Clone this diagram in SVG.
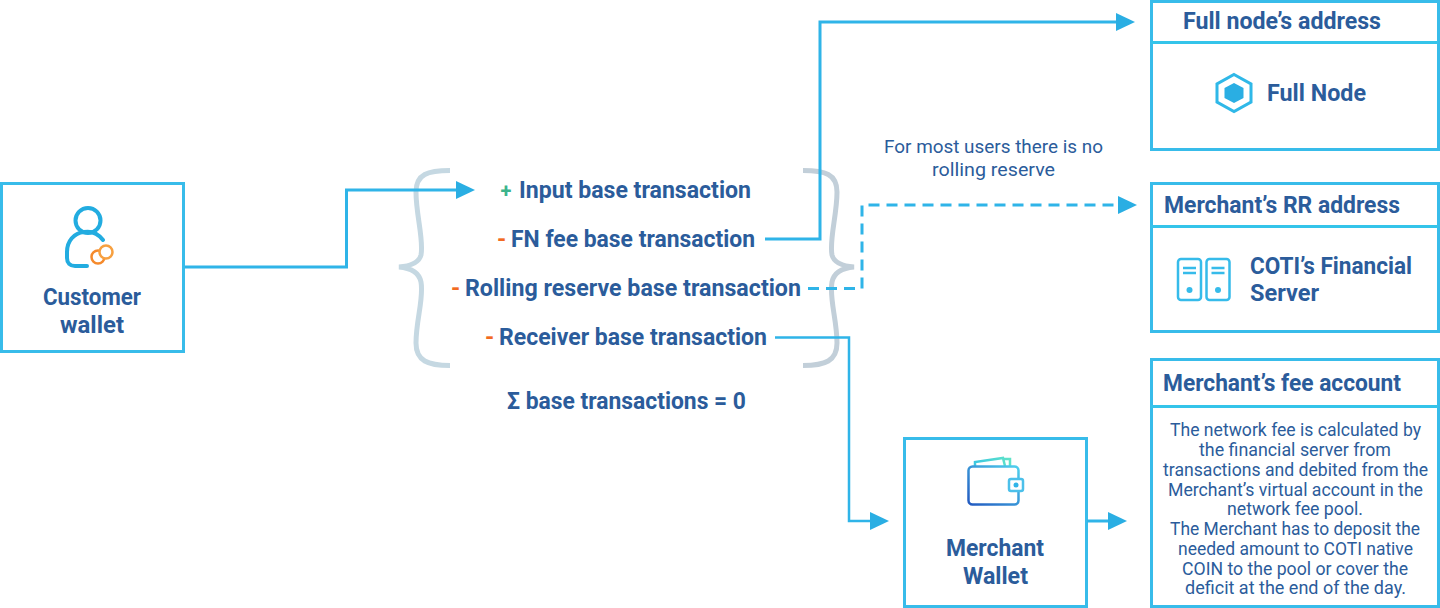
<svg xmlns="http://www.w3.org/2000/svg" width="1440" height="608" viewBox="0 0 1440 608">
<style>
text{font-family:Roboto,"Noto Sans","Liberation Sans",sans-serif;fill:#2b5c9b}
.t{font-weight:700;font-size:23.500px}
.m{text-anchor:middle}
.s{font-size:17.500px;font-weight:400;text-anchor:middle}
.box{fill:#fff;stroke:#38bcea;stroke-width:3}
.div{fill:none;stroke:#34c4ea;stroke-width:3}
.c{fill:none;stroke:#2fb4e8;stroke-width:3}
.d{stroke-dasharray:11 7}
.br{fill:none;stroke-width:5}
</style>
<defs>
<marker id="a" markerUnits="userSpaceOnUse" markerWidth="19" markerHeight="20" refX="0" refY="10" orient="auto"><path d="M0 1L19 10L0 19Z" fill="#2aaee3"/></marker>
<linearGradient id="w" x1="0" y1="1" x2="1" y2="0"><stop offset="0" stop-color="#2259c0"/><stop offset="1" stop-color="#4fd0ee"/></linearGradient>
<linearGradient id="w2" x1="0" y1="0" x2="1" y2="0"><stop offset="0" stop-color="#3cc8e0"/><stop offset="1" stop-color="#5fe3c8"/></linearGradient>
</defs>
<g id="customer-wallet">
<rect class="box" x="1.500" y="183.500" width="182" height="168"/>
<circle cx="88" cy="220.500" r="12.500" fill="none" stroke="#22ace0" stroke-width="4"/>
<path d="M103 240C97 232 90 231 84 232C74 233 67 241 67 252V258C67 263 70 266 75 266H87" fill="none" stroke="#22ace0" stroke-width="4" stroke-linecap="round"/>
<circle cx="98" cy="257" r="6.500" fill="none" stroke="#f58a2c" stroke-width="2.500"/>
<circle cx="106" cy="252" r="6.500" fill="#fff" stroke="#f7a040" stroke-width="2.500"/>
<text class="t m" x="92" y="305" textLength="98" lengthAdjust="spacingAndGlyphs">Customer</text>
<text class="t m" x="92" y="333" textLength="64" lengthAdjust="spacingAndGlyphs">wallet</text>
</g>
<g id="transactions">
<path class="br" stroke="#c5d8e2" d="M450 170.500C428 170.500 416 174 416 192C416 215 424 240 421 255C419 263 410 266 399 267C410 268 419 272 421 282C424 298 416 320 416 343C416 361 428 365.500 450 365.500"/>
<path class="br" stroke="#c2cfd9" d="M803 170.500C825 170.500 837 174 837 192C837 215 829 240 832 255C834 263 843 266 854 267C843 268 834 272 832 282C829 298 837 320 837 343C837 361 825 365.500 803 365.500"/>
<text class="t" x="500.500" y="198" style="fill:#3cb48c;font-size:20px">+</text>
<text class="t" x="519" y="198" textLength="232" lengthAdjust="spacingAndGlyphs">Input base transaction</text>
<text class="t" x="497" y="247" style="fill:#f26a21">-</text>
<text class="t" x="511" y="247" textLength="244" lengthAdjust="spacingAndGlyphs">FN fee base transaction</text>
<text class="t" x="451" y="296" style="fill:#f26a21">-</text>
<text class="t" x="465" y="296" textLength="336" lengthAdjust="spacingAndGlyphs">Rolling reserve base transaction</text>
<text class="t" x="485" y="345" style="fill:#f26a21">-</text>
<text class="t" x="499" y="345" textLength="268" lengthAdjust="spacingAndGlyphs">Receiver base transaction</text>
<text class="t" x="507" y="409" textLength="239" lengthAdjust="spacingAndGlyphs">Σ base transactions = 0</text>
</g>
<text class="s" x="993.500" y="153" textLength="219" lengthAdjust="spacingAndGlyphs">For most users there is no</text>
<text class="s" x="993.500" y="176" textLength="123" lengthAdjust="spacingAndGlyphs">rolling reserve</text>
<g id="full-node">
<rect class="box" x="1151.500" y="1.500" width="287" height="148"/>
<path class="div" d="M1151 42.500H1438"/>
<text class="t" x="1183" y="29" textLength="198" lengthAdjust="spacingAndGlyphs">Full node’s address</text>
<path d="M1234 74.500L1251 84V102L1234 111.500L1217 102V84Z" fill="#fff" stroke="#2fb8e8" stroke-width="3"/>
<path d="M1234 83L1243.500 88V98L1234 103L1224.500 98V88Z" fill="#2aaee3"/>
<text class="t" x="1267" y="101" textLength="99" lengthAdjust="spacingAndGlyphs">Full Node</text>
</g>
<g id="rr-address">
<rect class="box" x="1151.500" y="183.500" width="287" height="148"/>
<path class="div" d="M1151 226.500H1438"/>
<text class="t" x="1164" y="212.500" textLength="236" lengthAdjust="spacingAndGlyphs">Merchant’s RR address</text>
<rect x="1178" y="259" width="23" height="41" rx="3" fill="none" stroke="#36bbea" stroke-width="2.500"/>
<rect x="1206.500" y="259" width="23" height="41" rx="3" fill="none" stroke="#36bbea" stroke-width="2.500"/>
<path d="M1183 268H1196M1183 273H1196M1211.500 268H1224.500M1211.500 273H1224.500" stroke="#36bbea" stroke-width="2.500"/>
<circle cx="1189.500" cy="290" r="3" fill="#36bbea"/>
<circle cx="1218" cy="290" r="3" fill="#36bbea"/>
<text class="t" x="1250" y="274" textLength="162" lengthAdjust="spacingAndGlyphs">COTI’s Financial</text>
<text class="t" x="1250" y="301" textLength="69" lengthAdjust="spacingAndGlyphs">Server</text>
</g>
<g id="fee-account">
<rect class="box" x="1151.500" y="359.500" width="287" height="247"/>
<path class="div" d="M1151 406.500H1438"/>
<text class="t" x="1163" y="391" textLength="238" lengthAdjust="spacingAndGlyphs">Merchant’s fee account</text>
<text class="s" x="1295.500" y="436" textLength="251" lengthAdjust="spacingAndGlyphs">The network fee is calculated by</text>
<text class="s" x="1295" y="456" textLength="192" lengthAdjust="spacingAndGlyphs">the financial server from</text>
<text class="s" x="1295.500" y="476" textLength="265" lengthAdjust="spacingAndGlyphs">transactions and debited from the</text>
<text class="s" x="1295.500" y="495.500" textLength="255" lengthAdjust="spacingAndGlyphs">Merchant’s virtual account in the</text>
<text class="s" x="1295" y="515" textLength="136" lengthAdjust="spacingAndGlyphs">network fee pool.</text>
<text class="s" x="1295" y="535" textLength="250" lengthAdjust="spacingAndGlyphs">The Merchant has to deposit the</text>
<text class="s" x="1295.500" y="555" textLength="235" lengthAdjust="spacingAndGlyphs">needed amount to COTI native</text>
<text class="s" x="1295" y="574.500" textLength="226" lengthAdjust="spacingAndGlyphs">COIN to the pool or cover the</text>
<text class="s" x="1295.500" y="594" textLength="221" lengthAdjust="spacingAndGlyphs">deficit at the end of the day.</text>
</g>
<g id="merchant-wallet">
<rect class="box" x="904.500" y="438.500" width="182" height="168"/>
<path d="M975 466L975 462L1003 458L1005 466M1003 459L1010 459V466" fill="none" stroke="url(#w2)" stroke-width="2.500"/>
<rect x="968.500" y="466.500" width="50" height="38" rx="4" fill="none" stroke="url(#w)" stroke-width="2.500"/>
<rect x="1009" y="479" width="14" height="12" rx="2" fill="#fff" stroke="#4cc0ea" stroke-width="2.500"/>
<circle cx="1016" cy="485" r="2.500" fill="#2fb4e8"/>
<text class="t m" x="995" y="556" textLength="98" lengthAdjust="spacingAndGlyphs">Merchant</text>
<text class="t m" x="995.500" y="584" textLength="65" lengthAdjust="spacingAndGlyphs">Wallet</text>
</g>
<g id="connectors">
<path class="c" marker-end="url(#a)" d="M185 267H346.500V190H456"/>
<path class="c" marker-end="url(#a)" d="M765 239H820V22H1116"/>
<path class="c d" marker-end="url(#a)" d="M808 288.500H862V205H1118"/>
<path class="c" marker-end="url(#a)" style="stroke-width:2.500" d="M775 337.500H849V521H870"/>
<path class="c" marker-end="url(#a)" d="M1087 521H1108"/>
</g>
</svg>
